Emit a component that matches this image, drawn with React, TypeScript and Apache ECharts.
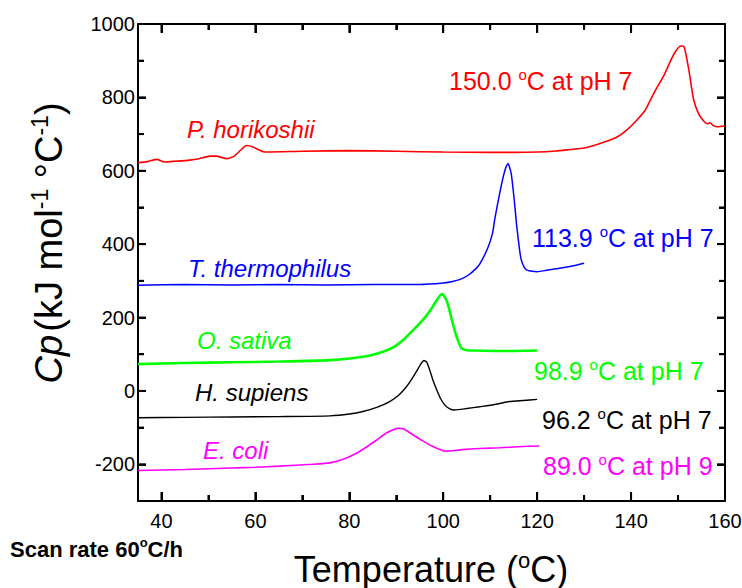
import React, { useEffect, useRef } from 'react';
import * as echarts from 'echarts';

const FONT = "'Liberation Sans', Arial, sans-serif";

// Axis ranges and tick values
const xRange = [35, 160];
const yRange = [-300, 1000];
const xMajorTicks = [40, 60, 80, 100, 120, 140, 160];
const xMinorTicks = [50, 70, 90, 110, 130, 150];
const yMajorTicks = [-200, 0, 200, 400, 600, 800, 1000];
const yMinorTicks = [-100, 100, 300, 500, 700, 900];

// Series data: [temperature °C, Cp]
const horikoshii = [
  [35, 622], [37, 625], [39, 631], [40.7, 624], [43, 626], [46, 629], [48, 633], [50.3, 640],
  [51.7, 640], [53.9, 633], [55.5, 640], [57, 658], [58.1, 669], [59.5, 665], [61, 655],
  [62, 651], [70, 653], [80, 655], [90, 653], [100, 651], [110, 650], [115, 650], [120, 651],
  [124, 654], [127, 658], [130, 662], [134, 677], [137, 692], [139, 710], [141, 735],
  [143, 765], [145, 815], [147, 860], [148.6, 905], [149.6, 928], [150.6, 940], [151.3, 938],
  [152.3, 875], [153.3, 795], [154.4, 755], [155.5, 735], [156.3, 728], [156.8, 731],
  [157.5, 723], [158.5, 720], [160, 722],
];
const thermophilus = [
  [35, 288], [45, 290], [55, 289], [65, 290], [75, 289], [85, 290], [95, 290], [100, 294],
  [102, 298], [104, 306], [105.6, 318], [107, 334], [107.8, 346], [109.5, 390], [110.5, 430],
  [111, 470], [112.4, 562], [113.3, 608], [113.8, 620], [114.5, 590], [115.2, 510],
  [115.6, 455], [116.2, 390], [116.6, 358], [117.2, 338], [117.7, 330], [119, 326], [120, 325],
  [122, 329], [124, 333], [126, 337], [128, 342], [130, 348],
];
const sativa = [
  [35, 73], [45, 76], [55, 78], [65, 80], [75.9, 84], [82.9, 93], [87.2, 107], [89.5, 120],
  [91.4, 138], [93, 158], [95, 184], [97, 215], [98.5, 245], [99.7, 264], [100.5, 252],
  [101, 235], [101.8, 195], [102.4, 166], [103.2, 135], [103.9, 116], [105, 111], [107, 110],
  [111.3, 109], [115, 109], [120, 110],
];
const supiens = [
  [35, -73], [45, -72], [55, -71], [65, -70], [75.9, -68], [80, -63], [82.9, -56], [86, -44],
  [88.6, -29], [90.5, -12], [92.2, 12], [93.3, 32], [94.3, 53], [95.2, 73], [95.9, 83],
  [96.5, 78], [97.1, 58], [97.8, 30], [98.6, 3], [99.4, -20], [100.3, -38], [101.3, -48],
  [102.4, -52], [105, -48], [107.8, -43], [111, -37], [114.1, -29], [117, -26], [120, -23],
];
const coli = [
  [35, -217], [45, -214], [55, -210], [60, -208], [65, -205], [72, -200], [75.9, -196],
  [79, -185], [81.5, -170], [84, -150], [85.8, -134], [88, -114], [90.4, -102], [91.5, -103],
  [93.6, -120], [95.5, -135], [97.1, -147], [99, -158], [100.3, -164], [102, -163],
  [104, -160], [107.8, -157], [112, -155], [116, -152], [120.5, -150],
];

const speciesNames = ['P. horikoshii', 'T. thermophilus', 'O. sativa', 'H. supiens', 'E. coli'];
const peakTemps = ['150.0', '113.9', '98.9', '96.2', '89.0'];
const peakPH = ['7', '7', '7', '7', '9'];
const colors = ['#ff0000', '#0000ff', '#00ff00', '#000000', '#ff00ff'];
const seriesData = [horikoshii, thermophilus, sativa, supiens, coli];
const lineWidths = [1.6, 1.5, 2.6, 1.4, 1.6];

const speciesPos = [[187, 129], [188, 268], [197, 340], [195, 392], [203, 450]];
const tempPos = [[449, 81], [532, 238], [534, 371], [542, 420], [543, 466]];

const MAJOR_X = 9;
const MAJOR_Y = 8;
const MINOR = 6;

function axis(position: string, range: number[], showLabels: boolean, margin: number, majorLen: number) {
  return {
    type: 'value',
    position,
    min: range[0],
    max: range[1],
    splitNumber: 6,
    axisLine: { show: true, onZero: false, lineStyle: { color: '#000', width: 2 } },
    axisTick: { show: true, inside: true, length: majorLen, lineStyle: { color: '#000', width: 2 } },
    minorTick: { show: true, splitNumber: 2, length: MINOR, lineStyle: { color: '#000', width: 2 } },
    axisLabel: {
      show: showLabels,
      showMinLabel: false,
      showMaxLabel: true,
      formatter: (v: number) => String(v),
      color: '#000',
      fontSize: 20,
      fontFamily: FONT,
      margin,
    },
    splitLine: { show: false },
  };
}

function richBase(size: number, color: string, supSize: number, weight = 'normal') {
  return {
    n: { fontSize: size, fontFamily: FONT, fontWeight: weight, fill: color, lineHeight: size + 4 },
    s: { fontSize: supSize, fontFamily: FONT, fontWeight: weight, fill: color, lineHeight: supSize, verticalAlign: 'top' },
  };
}

function buildTexts() {
  const graphics: any[] = [];
  speciesNames.forEach((name, i) => {
    graphics.push({
      type: 'text',
      x: speciesPos[i][0],
      y: speciesPos[i][1],
      style: {
        text: name,
        fill: colors[i],
        fontSize: 24,
        fontStyle: 'italic',
        fontFamily: FONT,
        textAlign: 'left',
        textVerticalAlign: 'middle',
      },
    });
    graphics.push({
      type: 'text',
      x: tempPos[i][0],
      y: tempPos[i][1],
      style: {
        text: `{n|${peakTemps[i]} }{s|o}{n|C at pH ${peakPH[i]}}`,
        rich: richBase(25, colors[i], 15),
        fill: colors[i],
        textAlign: 'left',
        textVerticalAlign: 'middle',
      },
    });
  });
  graphics.push({
    type: 'text',
    x: 431,
    y: 569,
    style: {
      text: '{n|Temperature (}{s|o}{n|C)}',
      rich: richBase(36, '#000', 22),
      fill: '#000',
      textAlign: 'center',
      textVerticalAlign: 'middle',
    },
  });
  graphics.push({
    type: 'text',
    x: 49,
    y: 243,
    rotation: Math.PI / 2,
    style: {
      text: '{i|Cp} {n|(kJ mol}{s|-1}{n| °C}{s|-1}{n|)}',
      rich: {
        ...richBase(38, '#000', 23),
        i: { fontSize: 38, fontFamily: FONT, fontStyle: 'italic', fill: '#000', lineHeight: 42 },
      },
      fill: '#000',
      textAlign: 'center',
      textVerticalAlign: 'middle',
    },
  });
  graphics.push({
    type: 'text',
    x: 10,
    y: 549,
    style: {
      text: '{n|Scan rate 60}{s|o}{n|C/h}',
      rich: richBase(22, '#000', 13, 'bold'),
      fill: '#000',
      textAlign: 'left',
      textVerticalAlign: 'middle',
    },
  });
  return graphics;
}

export default function App() {
  const ref = useRef<HTMLDivElement>(null);
  useEffect(() => {
    document.body.style.margin = '0';
    const chart = echarts.init(ref.current!, undefined, { renderer: 'svg' });

    const lineSeries = seriesData.map((d, i) => ({
      type: 'line',
      name: speciesNames[i],
      data: d,
      showSymbol: false,
      smooth: 0.2,
      lineStyle: { color: colors[i], width: lineWidths[i] },
      itemStyle: { color: colors[i] },
    }));

    const texts = buildTexts();

    chart.setOption({
      animation: false,
      backgroundColor: '#fff',
      grid: { left: 138, right: 17, top: 24, bottom: 87, containLabel: false, outerBoundsMode: 'none' },
      xAxis: [
        axis('bottom', xRange, true, 10, MAJOR_X),
        axis('top', xRange, false, 10, MAJOR_X),
      ],
      yAxis: [
        axis('left', yRange, true, 3, MAJOR_Y),
        axis('right', yRange, false, 3, MAJOR_Y),
      ],
      series: lineSeries,
      graphic: texts,
    });

    // Tick marks positioned through the chart's own axis scales
    const toPx = (x: number, y: number) =>
      chart.convertToPixel({ xAxisIndex: 0, yAxisIndex: 0 }, [x, y]) as number[];
    const tickEls: any[] = [];
    const addLine = (x1: number, y1: number, x2: number, y2: number) => {
      tickEls.push({
        type: 'line',
        z: 100,
        silent: true,
        shape: { x1, y1, x2, y2 },
        style: { stroke: '#000', lineWidth: 2 },
      });
    };
    const addX = (vals: number[], len: number) => {
      vals.forEach((v) => {
        const b = toPx(v, yRange[0]);
        const t = toPx(v, yRange[1]);
        if (!b || !t) return;
        addLine(b[0], b[1], b[0], b[1] - len);
        addLine(t[0], t[1], t[0], t[1] + len);
      });
    };
    const addY = (vals: number[], len: number) => {
      vals.forEach((v) => {
        const l = toPx(xRange[0], v);
        const r = toPx(xRange[1], v);
        if (!l || !r) return;
        addLine(l[0], l[1], l[0] + len, l[1]);
        addLine(r[0], r[1], r[0] - len, r[1]);
      });
    };
    addX(xMajorTicks, MAJOR_X);
    addX(xMinorTicks, MINOR);
    addY(yMajorTicks, MAJOR_Y);
    addY(yMinorTicks, MINOR);

    chart.setOption({ graphic: [...texts, ...tickEls] });

    return () => chart.dispose();
  }, []);
  return <div ref={ref} style={{ width: 742, height: 588 }} />;
}
